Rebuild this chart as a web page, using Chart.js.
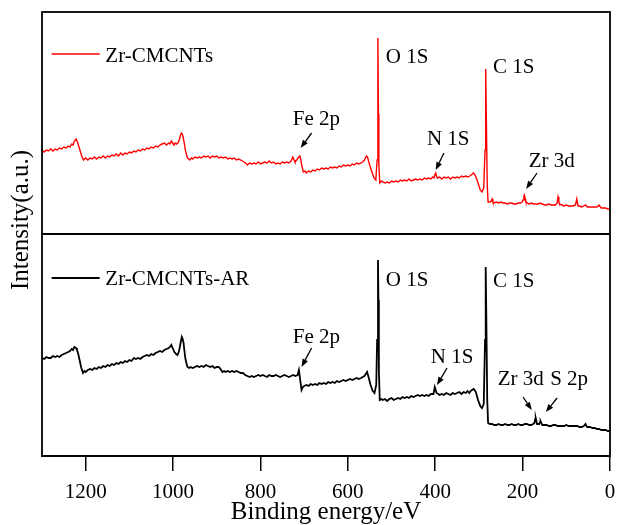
<!DOCTYPE html>
<html>
<head>
<meta charset="utf-8">
<script src="https://cdn.jsdelivr.net/npm/chart.js@4.4.0/dist/chart.umd.min.js"></script>
<style>
  html, body { margin: 0; padding: 0; background: #fff; }
  #wrap { width: 617px; height: 525px; }
</style>
</head>
<body>
<div id="wrap"><canvas id="xps"></canvas></div>
<script>
// XPS 全谱：上 Zr-CMCNTs，下 Zr-CMCNTs-AR（强度为任意单位，[结合能, 强度]）

const xTicks = [0, 200, 400, 600, 800, 1000, 1200];

const spectrumTop = [
  [1300, 84], [1295, 82], [1290, 84], [1285, 83], [1280, 85], [1275, 83], [1270, 85], [1265, 84],
  [1260, 86], [1255, 85], [1250, 87], [1245, 86], [1240, 88], [1236, 87], [1232, 90], [1229, 89],
  [1226, 93], [1222, 95], [1218, 91], [1214, 85], [1209, 78], [1205, 74], [1200, 76], [1195, 74],
  [1190, 76], [1185, 75], [1180, 77], [1175, 75], [1170, 77], [1165, 76], [1160, 78], [1155, 76],
  [1150, 78], [1145, 77], [1140, 79], [1135, 78], [1130, 80], [1125, 78], [1120, 81], [1115, 79],
  [1110, 81], [1105, 80], [1100, 82], [1095, 81], [1090, 83], [1085, 82], [1080, 84], [1075, 83],
  [1070, 85], [1065, 84], [1060, 86], [1055, 85], [1050, 87], [1045, 86], [1040, 88], [1035, 87],
  [1030, 89], [1025, 90], [1020, 91], [1015, 89], [1010, 91], [1007, 90], [1004, 93], [1001, 91],
  [998, 89], [995, 91], [992, 90], [989, 91], [986, 94], [983, 99], [981, 101], [979, 100],
  [977, 97], [974, 90], [972, 84], [969, 79], [967, 76], [964, 75], [962, 74], [958, 76],
  [955, 75], [950, 77], [945, 76], [940, 77], [935, 76], [930, 78], [925, 77], [920, 78],
  [915, 76], [910, 78], [905, 77], [900, 78], [895, 76], [890, 77], [885, 76], [880, 77],
  [875, 75], [870, 76], [865, 75], [860, 76], [855, 74], [850, 75], [845, 74], [841, 73],
  [838, 72], [834, 71], [830, 69], [825, 71], [820, 70], [815, 71], [810, 70], [805, 72],
  [800, 70], [795, 71], [790, 72], [785, 71], [780, 73], [775, 71], [770, 72], [765, 70],
  [760, 71], [755, 70], [750, 72], [745, 71], [740, 72], [735, 71], [730, 73], [726, 77],
  [723, 74], [721, 72], [717, 74], [714, 76], [710, 78], [708, 75], [706, 70], [702, 62],
  [698, 63], [695, 61], [690, 63], [685, 62], [680, 64], [675, 63], [670, 65], [665, 64],
  [660, 66], [655, 65], [650, 66], [645, 65], [640, 67], [635, 66], [630, 67], [625, 66],
  [620, 68], [615, 67], [610, 69], [605, 68], [600, 69], [595, 68], [590, 70], [585, 69],
  [580, 71], [575, 70], [570, 71], [566, 72], [562, 74], [560, 76], [557, 78], [555, 77],
  [552, 72], [550, 69], [545, 62], [540, 56], [536, 54], [533, 74], [531.5, 120], [531, 196],
  [530, 120], [529, 70], [527, 51], [523, 53], [520, 52], [515, 51], [510, 52], [505, 51],
  [500, 53], [495, 52], [490, 53], [485, 52], [480, 54], [475, 53], [470, 54], [465, 53],
  [460, 55], [455, 53], [450, 54], [445, 55], [440, 54], [435, 55], [430, 54], [425, 56],
  [420, 55], [415, 56], [410, 55], [406, 57], [403, 56], [401, 59], [399, 61], [397, 58],
  [395, 56], [390, 57], [385, 55], [380, 57], [375, 56], [370, 57], [365, 55], [360, 57],
  [355, 56], [350, 57], [345, 56], [340, 58], [335, 57], [330, 58], [325, 57], [321, 58],
  [318, 59], [315, 60], [313, 61], [310, 60], [308, 58], [305, 55], [302, 51], [297, 44],
  [293, 42], [289, 46], [286, 84], [284.5, 165], [283, 114], [281, 49], [279, 32], [275, 32],
  [272, 33], [270, 35], [268, 32], [266, 31], [260, 32], [255, 31], [250, 32], [245, 31],
  [240, 31], [235, 30], [230, 31], [225, 31], [220, 30], [215, 30], [210, 31], [205, 31],
  [201, 32], [199, 34], [197, 38], [196, 39], [194, 35], [193, 33], [190, 31], [185, 30],
  [180, 31], [175, 30], [170, 30], [165, 30], [160, 31], [155, 30], [150, 29], [145, 29],
  [140, 30], [135, 29], [130, 29], [125, 29], [121, 31], [119, 37], [117, 33], [116, 30],
  [110, 29], [105, 28], [100, 29], [95, 28], [90, 28], [85, 28], [79, 29], [76, 35],
  [74, 30], [73, 28], [70, 28], [65, 27], [60, 28], [56, 29], [54, 28], [52, 27],
  [46, 27], [40, 27], [35, 27], [30, 27], [25, 29], [22, 27], [20, 26], [15, 26],
  [10, 26], [5, 25], [0, 25]
];

const spectrumBottom = [
  [1300, 98], [1295, 97], [1290, 99], [1285, 98], [1280, 98], [1275, 100], [1270, 99], [1265, 100],
  [1260, 99], [1255, 101], [1250, 102], [1245, 103], [1240, 104], [1236, 105], [1232, 107], [1229, 106],
  [1226, 109], [1222, 108], [1220, 106], [1217, 102], [1215, 98], [1212, 92], [1210, 88], [1206, 83],
  [1203, 85], [1200, 84], [1195, 86], [1190, 87], [1185, 86], [1180, 88], [1175, 87], [1170, 89],
  [1165, 88], [1160, 90], [1155, 89], [1150, 91], [1145, 90], [1140, 92], [1135, 91], [1130, 93],
  [1125, 92], [1120, 94], [1115, 93], [1110, 95], [1105, 94], [1100, 96], [1095, 95], [1090, 98],
  [1085, 97], [1080, 98], [1075, 97], [1070, 99], [1065, 100], [1060, 101], [1055, 100], [1050, 102],
  [1045, 101], [1040, 103], [1035, 104], [1030, 105], [1025, 104], [1020, 106], [1015, 107], [1010, 108],
  [1007, 109], [1004, 111], [1000, 107], [997, 104], [993, 102], [990, 101], [987, 104], [985, 108],
  [982, 115], [980, 119], [978, 117], [976, 113], [974, 105], [972, 98], [969, 92], [967, 89],
  [963, 88], [960, 89], [955, 88], [950, 89], [945, 90], [940, 89], [935, 90], [930, 89],
  [925, 91], [920, 90], [915, 89], [910, 90], [905, 88], [900, 89], [896, 89], [893, 88],
  [890, 86], [887, 84], [883, 85], [880, 84], [875, 85], [870, 84], [865, 85], [860, 84],
  [855, 85], [850, 84], [845, 83], [840, 83], [835, 81], [830, 80], [825, 79], [820, 80],
  [815, 79], [810, 80], [805, 81], [800, 80], [795, 81], [790, 80], [785, 79], [780, 81],
  [775, 80], [770, 80], [765, 81], [760, 80], [755, 79], [750, 80], [745, 81], [740, 80],
  [735, 79], [730, 80], [725, 81], [720, 80], [715, 81], [712, 86], [709, 76], [706, 66],
  [703, 69], [700, 70], [695, 71], [690, 70], [685, 72], [680, 71], [675, 72], [670, 71],
  [665, 73], [660, 72], [655, 73], [650, 72], [645, 74], [640, 73], [635, 74], [630, 73],
  [625, 75], [620, 74], [615, 75], [610, 76], [605, 75], [600, 76], [595, 77], [590, 76],
  [585, 77], [580, 78], [575, 77], [570, 78], [566, 79], [562, 80], [559, 82], [556, 84],
  [552, 78], [548, 71], [543, 65], [539, 63], [535, 71], [533, 116], [531, 196], [530, 156],
  [529, 86], [527, 56], [523, 57], [520, 56], [515, 57], [510, 55], [505, 57], [500, 58],
  [495, 56], [490, 57], [485, 58], [480, 57], [475, 59], [470, 58], [465, 59], [460, 58],
  [455, 60], [450, 59], [445, 60], [440, 61], [435, 60], [430, 61], [425, 60], [420, 61],
  [415, 60], [410, 62], [404, 62], [401, 69], [399, 66], [397, 63], [393, 62], [390, 61],
  [385, 62], [380, 61], [375, 63], [370, 62], [365, 61], [360, 63], [355, 62], [350, 63],
  [345, 64], [340, 62], [335, 64], [330, 63], [326, 65], [322, 63], [319, 65], [316, 66],
  [312, 67], [310, 66], [307, 64], [302, 56], [297, 50], [293, 48], [289, 52], [286, 116],
  [284.5, 189], [283, 136], [281, 56], [279, 33], [275, 32], [270, 32], [265, 31], [260, 31],
  [255, 32], [250, 31], [245, 31], [240, 32], [235, 31], [230, 31], [225, 32], [220, 31],
  [215, 31], [210, 32], [205, 31], [200, 31], [195, 32], [190, 32], [185, 31], [180, 31],
  [176, 32], [173, 33], [171, 37], [170, 38], [168, 34], [167, 32], [164, 32], [162, 32],
  [160, 34], [159, 35], [157, 33], [155, 31], [150, 31], [145, 31], [140, 30], [135, 30],
  [130, 31], [125, 31], [120, 30], [115, 30], [110, 30], [105, 30], [100, 31], [95, 30],
  [90, 30], [85, 30], [80, 30], [75, 30], [70, 29], [65, 29], [60, 30], [56, 32],
  [54, 30], [52, 29], [46, 29], [40, 28], [35, 28], [30, 27], [25, 27], [20, 26],
  [15, 26], [10, 26], [5, 25], [0, 25]
];

// 峰位标注：[文字, 能量, 强度, 面板]
const peakLabels = [
  ['O 1S', 513, 171, 'top'], ['C 1S', 268, 161, 'top'], ['Fe 2p', 726, 109, 'top'],
  ['N 1S', 419, 89, 'top'], ['Zr 3d', 186, 67, 'top'],
  ['O 1S', 513, 170, 'bot'], ['C 1S', 268, 169, 'bot'], ['Fe 2p', 726, 113, 'bot'],
  ['N 1S', 410, 93, 'bot'], ['Zr 3d', 257, 71, 'bot'], ['S 2p', 137, 71, 'bot']
];
// 箭头：[起点能量, 起点强度, 终点能量, 终点强度, 面板]
const peakArrows = [
  [683, 101, 708, 86, 'top'], [380, 81, 399, 64, 'top'], [167, 61, 192, 45, 'top'],
  [683, 108, 706, 89, 'bot'], [373, 88, 396, 71, 'bot'],
  [199, 59, 179, 46, 'bot'], [121, 58, 147, 44, 'bot']
];

const SERIF = '"Liberation Serif", "DejaVu Serif", serif';

function toPoints(pairs) {
  return pairs.map(([x, y]) => ({ x, y }));
}

const decorPlugin = {
  id: 'decor',
  afterDatasetsDraw(chart) {
    const { ctx, chartArea: a, scales } = chart;
    const xs = scales.x;
    const yOf = p => (p === 'top' ? scales.yTop : scales.yBot);

    ctx.save();
    // 外框与中间分隔线
    ctx.strokeStyle = '#000';
    ctx.lineWidth = 1.8;
    ctx.strokeRect(a.left, a.top, a.right - a.left, a.bottom - a.top);
    const mid = scales.yTop.getPixelForValue(0);
    ctx.beginPath();
    ctx.moveTo(a.left, mid);
    ctx.lineTo(a.right, mid);
    ctx.stroke();

    // 图例
    const legends = [
      ['Zr-CMCNTs', '#ff0000', 1.4, 180, 172, 'top'],
      ['Zr-CMCNTs-AR', '#000000', 1.8, 178, 171, 'bot']
    ];
    ctx.font = '21px ' + SERIF;
    ctx.textBaseline = 'alphabetic';
    ctx.textAlign = 'left';
    legends.forEach(([txt, col, w, ly, ty, p]) => {
      const ys = yOf(p);
      ctx.strokeStyle = col;
      ctx.lineWidth = w;
      ctx.beginPath();
      ctx.moveTo(xs.getPixelForValue(1278), ys.getPixelForValue(ly));
      ctx.lineTo(xs.getPixelForValue(1168), ys.getPixelForValue(ly));
      ctx.stroke();
      ctx.fillStyle = '#000';
      ctx.fillText(txt, xs.getPixelForValue(1155), ys.getPixelForValue(ty));
    });

    // 峰位文字
    ctx.fillStyle = '#000';
    peakLabels.forEach(([txt, e, v, p]) => {
      ctx.fillText(txt, xs.getPixelForValue(e), yOf(p).getPixelForValue(v));
    });

    // 箭头
    ctx.strokeStyle = '#000';
    ctx.lineWidth = 1.3;
    peakArrows.forEach(([e1, v1, e2, v2, p]) => {
      const ys = yOf(p);
      const x1 = xs.getPixelForValue(e1), y1 = ys.getPixelForValue(v1);
      const x2 = xs.getPixelForValue(e2), y2 = ys.getPixelForValue(v2);
      const ang = Math.atan2(y2 - y1, x2 - x1);
      const len = 8, half = 3;
      const bx = x2 - len * Math.cos(ang), by = y2 - len * Math.sin(ang);
      ctx.beginPath();
      ctx.moveTo(x1, y1);
      ctx.lineTo(bx, by);
      ctx.stroke();
      ctx.beginPath();
      ctx.moveTo(x2, y2);
      ctx.lineTo(bx + half * Math.sin(ang), by - half * Math.cos(ang));
      ctx.lineTo(bx - half * Math.sin(ang), by + half * Math.cos(ang));
      ctx.closePath();
      ctx.fill();
    });

    // 纵轴标题
    ctx.font = '25px ' + SERIF;
    ctx.textAlign = 'center';
    ctx.translate(28, 220);
    ctx.rotate(-Math.PI / 2);
    ctx.fillText('Intensity(a.u.)', 0, 0);
    ctx.restore();
  }
};

new Chart(document.getElementById('xps'), {
  type: 'line',
  data: {
    datasets: [
      {
        label: 'Zr-CMCNTs',
        data: toPoints(spectrumTop),
        yAxisID: 'yTop',
        borderColor: '#ff0000',
        borderWidth: 1.4,
        pointRadius: 0,
        tension: 0
      },
      {
        label: 'Zr-CMCNTs-AR',
        data: toPoints(spectrumBottom),
        yAxisID: 'yBot',
        borderColor: '#000000',
        borderWidth: 1.8,
        pointRadius: 0,
        tension: 0
      }
    ]
  },
  options: {
    responsive: true,
    maintainAspectRatio: false,
    animation: false,
    devicePixelRatio: 1,
    layout: { padding: { left: 42, right: 7, top: 12, bottom: 0 } },
    plugins: { legend: { display: false }, tooltip: { enabled: false } },
    scales: {
      x: {
        type: 'linear',
        min: 0,
        max: 1300,
        reverse: true,
        afterBuildTicks: s => { s.ticks = xTicks.map(v => ({ value: v })); },
        afterFit: s => { s.height = 69; },
        ticks: {
          color: '#000',
          font: { family: SERIF, size: 21 },
          padding: 9,
          maxRotation: 0,
          autoSkip: false,
          callback: v => String(v)
        },
        grid: { drawOnChartArea: false, tickLength: 15, color: '#000', lineWidth: 1.5 },
        border: { display: true, color: '#000', width: 1.8 },
        title: {
          display: true,
          text: 'Binding energy/eV',
          color: '#000',
          font: { family: SERIF, size: 25, lineHeight: 1 },
          padding: 0
        }
      },
      yTop: { type: 'linear', min: -222, max: 222, display: false },
      yBot: { type: 'linear', min: 0, max: 444, display: false }
    }
  },
  plugins: [decorPlugin]
});
</script>
</body>
</html>
